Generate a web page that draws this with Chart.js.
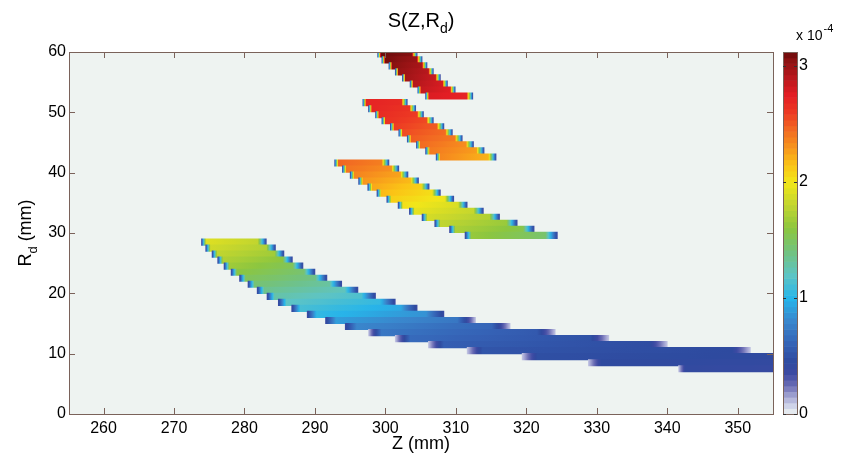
<!DOCTYPE html>
<html lang="en">
<head>
<meta charset="UTF-8">
<title>S(Z,Rd)</title>
<style>
  html, body { margin: 0; padding: 0; background: #ffffff; }
  #wrap { width: 841px; height: 459px; }
</style>
</head>
<body>
<div id="wrap"><canvas id="chart" width="841" height="459"></canvas></div>
<script src="https://cdn.jsdelivr.net/npm/chart.js@4.4.1/dist/chart.umd.min.js"></script>
<script>
// one row of cells per entry: [Rd centre (mm), Z start (mm), Z end (mm), S at start, S at end]  (S in units of 1e-4)
const band1 = [
  [59.7, 298.9, 304.5, 3.12, 3.06],
  [58.7, 299.5, 305.2, 3.10, 3.00],
  [57.7, 300.5, 305.9, 3.06, 2.95],
  [56.7, 301.4, 306.8, 3.02, 2.90],
  [55.7, 302.4, 307.8, 2.98, 2.85],
  [54.7, 303.5, 308.8, 2.92, 2.80],
  [53.7, 304.6, 309.9, 2.86, 2.76],
  [52.7, 305.7, 312.4, 2.78, 2.72],
];
const band2 = [
  [51.6, 296.8, 303.1, 2.72, 2.68],
  [50.6, 297.6, 304.3, 2.71, 2.64],
  [49.6, 298.6, 305.4, 2.68, 2.60],
  [48.6, 299.5, 306.8, 2.65, 2.55],
  [47.6, 300.7, 308.3, 2.60, 2.50],
  [46.6, 301.9, 309.5, 2.55, 2.45],
  [45.6, 303.1, 310.9, 2.50, 2.40],
  [44.6, 304.4, 312.5, 2.45, 2.33],
  [43.6, 305.7, 314.0, 2.40, 2.27],
  [42.6, 307.2, 315.7, 2.35, 2.20],
];
const band3 = [
  [41.6, 292.8, 300.5, 2.47, 2.38],
  [40.6, 293.9, 301.9, 2.42, 2.32],
  [39.6, 295.0, 303.2, 2.36, 2.25],
  [38.6, 296.2, 304.7, 2.30, 2.18],
  [37.6, 297.5, 306.2, 2.24, 2.10],
  [36.6, 298.8, 307.8, 2.18, 2.04],
  [35.6, 300.2, 309.7, 2.10, 1.98],
  [34.6, 301.8, 311.6, 2.03, 1.90],
  [33.6, 303.4, 313.9, 1.96, 1.82],
  [32.6, 305.2, 316.2, 1.88, 1.74],
  [31.6, 307.0, 318.7, 1.80, 1.65],
  [30.6, 309.1, 321.1, 1.72, 1.56],
  [29.6, 311.3, 324.4, 1.64, 1.46],
];
const band4 = [
  [28.5, 273.9, 283.1, 1.92, 1.80],
  [27.5, 274.5, 284.4, 1.86, 1.74],
  [26.5, 275.4, 285.6, 1.80, 1.68],
  [25.5, 276.2, 286.8, 1.74, 1.60],
  [24.5, 277.1, 288.3, 1.67, 1.52],
  [23.5, 278.1, 290.0, 1.60, 1.45],
  [22.5, 279.3, 291.7, 1.52, 1.38],
  [21.5, 280.5, 293.8, 1.44, 1.30],
  [20.5, 281.8, 296.1, 1.36, 1.22],
  [19.5, 283.2, 298.6, 1.28, 1.14],
  [18.5, 284.8, 301.4, 1.20, 1.05],
  [17.5, 286.7, 304.5, 1.12, 0.95],
  [16.5, 288.9, 308.3, 1.04, 0.85],
  [15.5, 291.5, 312.8, 0.90, 0.72],
  [14.5, 294.3, 317.7, 0.80, 0.62],
  [13.5, 297.6, 324.1, 0.72, 0.55],
  [12.5, 301.4, 331.7, 0.65, 0.50],
  [11.5, 306.1, 340.0, 0.58, 0.47],
  [10.5, 311.6, 351.8, 0.52, 0.45],
  [9.5, 319.4, 355.0, 0.48, 0.44],
  [8.5, 328.8, 355.0, 0.45, 0.42],
  [7.5, 341.6, 355.0, 0.42, 0.40],
];

const xTicks = [260, 270, 280, 290, 300, 310, 320, 330, 340, 350];
const yTicks = [0, 10, 20, 30, 40, 50, 60];
const cbTicks = [0, 1, 2, 3];
const zRange = [255.1, 355];
const rdRange = [0, 60];
const sRange = [0, 3.12];

// colour map (S -> colour), jet-like with a white-ish low end
const cmapStops = [
  [0.00, '#eef3f1'], [0.06, '#d6daec'], [0.15, '#a7a8d5'], [0.25, '#6a6cb4'],
  [0.35, '#3e4aa3'], [0.45, '#2e4a9f'], [0.60, '#3561b5'], [0.80, '#3a86cc'],
  [1.00, '#27b5ea'], [1.20, '#5ec4c4'], [1.40, '#72c27f'], [1.60, '#8cc63f'],
  [1.80, '#c1d52f'], [2.00, '#f2e619'], [2.15, '#fbc316'], [2.30, '#f7941d'],
  [2.45, '#f26b22'], [2.60, '#ed3a23'], [2.75, '#e31e24'], [2.90, '#b9181d'],
  [3.05, '#8b1212'], [3.12, '#6b0b0b'],
];
const hexRgb = h => [1, 3, 5].map(i => parseInt(h.substr(i, 2), 16));
const cmapRgb = cmapStops.map(s => [s[0], hexRgb(s[1])]);
function cmap(s) {
  if (s <= cmapRgb[0][0]) return rgbStr(cmapRgb[0][1]);
  for (let i = 1; i < cmapRgb.length; i++) {
    const [s1, c1] = cmapRgb[i];
    if (s <= s1) {
      const [s0, c0] = cmapRgb[i - 1];
      const t = (s - s0) / (s1 - s0);
      return rgbStr(c0.map((v, k) => v + (c1[k] - v) * t));
    }
  }
  return rgbStr(cmapRgb[cmapRgb.length - 1][1]);
}
function rgbStr(c) {
  return `rgb(${Math.round(c[0])},${Math.round(c[1])},${Math.round(c[2])})`;
}

const clamp = (v, a, b) => Math.max(a, Math.min(b, v));

// smooth edge of each row: S falls off towards a low value, like interpolated shading
function rowGradient(ctx, x0, x1, row) {
  const [, zs, ze, s0, s1] = row;
  const len = ze - zs;
  const g = ctx.createLinearGradient(x0, 0, x1, 0);
  const cutRight = ze >= zRange[1];
  const edgeL = s0 < 0.75 ? 0.1 : 0.38;
  const edgeR = s1 < 0.75 ? 0.1 : 0.38;
  const wl = clamp(len * 0.07, 0.45, 2.2) / len;
  const wr = cutRight ? 0 : clamp(len * 0.13, 0.7, 2.6) / len;
  const N = 8;
  for (let i = 0; i <= N; i++) {
    const t = i / N;
    g.addColorStop(t * wl, cmap(edgeL + (s0 - edgeL) * t));
  }
  for (let i = 1; i < N; i++) {
    const t = i / N;
    g.addColorStop(wl + t * (1 - wl - wr), cmap(s0 + (s1 - s0) * t));
  }
  if (cutRight) {
    g.addColorStop(1, cmap(s1));
  } else {
    for (let i = 0; i <= N; i++) {
      const t = i / N;
      g.addColorStop(1 - wr + t * wr, cmap(s1 + (edgeR - s1) * t));
    }
  }
  return g;
}

const FONT = 'Liberation Sans, Arial, Helvetica, sans-serif';
const AXIS_COLOR = '#7a625a';

function drawParts(ctx, parts, x, y) {
  let w = 0;
  parts.forEach(p => { ctx.font = `${p.size}px ${FONT}`; p.w = ctx.measureText(p.t).width; w += p.w; });
  let cx = x - w / 2;
  ctx.textAlign = 'left';
  ctx.textBaseline = 'alphabetic';
  parts.forEach(p => {
    ctx.font = `${p.size}px ${FONT}`;
    ctx.fillText(p.t, cx, y + (p.dy || 0));
    cx += p.w;
  });
}

const decor = {
  id: 'decor',
  beforeDraw(chart) {
    const { ctx, chartArea: a } = chart;
    ctx.save();
    ctx.fillStyle = '#ffffff';
    ctx.fillRect(0, 0, chart.width, chart.height);
    ctx.fillStyle = cmap(0);
    ctx.fillRect(a.left, a.top, a.right - a.left, a.bottom - a.top);
    ctx.restore();
  },
  afterDraw(chart) {
    const { ctx, chartArea: a, scales } = chart;
    ctx.save();
    ctx.strokeStyle = AXIS_COLOR;
    ctx.lineWidth = 1;
    // box
    ctx.strokeRect(Math.round(a.left) + 0.5, Math.round(a.top) + 0.5,
      Math.round(a.right - a.left), Math.round(a.bottom - a.top));
    // inward ticks on all four sides
    ctx.beginPath();
    xTicks.forEach(v => {
      const px = Math.round(scales.x.getPixelForValue(v)) + 0.5;
      ctx.moveTo(px, a.bottom); ctx.lineTo(px, a.bottom - 6);
      ctx.moveTo(px, a.top); ctx.lineTo(px, a.top + 6);
    });
    yTicks.forEach(v => {
      const py = Math.round(scales.y.getPixelForValue(v)) + 0.5;
      ctx.moveTo(a.left, py); ctx.lineTo(a.left + 6, py);
      ctx.moveTo(a.right, py); ctx.lineTo(a.right - 6, py);
    });
    ctx.stroke();

    // colour bar
    const cb = scales.cb;
    const bx = cb.left + 10, bw = 14;
    const steps = 64;
    for (let i = 0; i < steps; i++) {
      const v0 = sRange[0] + (sRange[1] - sRange[0]) * i / steps;
      const v1 = sRange[0] + (sRange[1] - sRange[0]) * (i + 1) / steps;
      const y0 = cb.getPixelForValue(v0), y1 = cb.getPixelForValue(v1);
      ctx.fillStyle = cmap((v0 + v1) / 2);
      ctx.fillRect(bx, y1, bw, y0 - y1 + 0.6);
    }
    ctx.strokeRect(bx + 0.5, Math.round(cb.top) + 0.5, bw, Math.round(cb.bottom - cb.top));
    ctx.strokeStyle = '#333';
    ctx.beginPath();
    cbTicks.forEach(v => {
      const py = Math.round(cb.getPixelForValue(v)) + 0.5;
      ctx.moveTo(bx, py); ctx.lineTo(bx + 3, py);
      ctx.moveTo(bx + bw, py); ctx.lineTo(bx + bw - 3, py);
    });
    ctx.stroke();

    // texts
    ctx.fillStyle = '#000';
    drawParts(ctx, [{ t: 'S(Z,R', size: 20 }, { t: 'd', size: 14, dy: 6 }, { t: ')', size: 20 }],
      (a.left + a.right) / 2, 27);
    drawParts(ctx, [{ t: 'Z (mm)', size: 18 }], (a.left + a.right) / 2, 449);
    ctx.save();
    ctx.translate(31, (a.top + a.bottom) / 2);
    ctx.rotate(-Math.PI / 2);
    drawParts(ctx, [{ t: 'R', size: 18 }, { t: 'd', size: 13, dy: 6 }, { t: ' (mm)', size: 18 }], 0, 0);
    ctx.restore();
    ctx.font = `14px ${FONT}`;
    ctx.textAlign = 'left';
    ctx.fillText('x 10', bx + 13, 40);
    const w10 = ctx.measureText('x 10').width;
    ctx.font = `11px ${FONT}`;
    ctx.fillText('-4', bx + 13 + w10 + 1, 32);
    ctx.restore();
  }
};

const bands = [band1, band2, band3, band4];

new Chart(document.getElementById('chart'), {
  type: 'bar',
  data: {
    datasets: bands.map(rows => ({
      data: rows.map(r => ({ y: r[0], x: [r[1], r[2]] })),
      backgroundColor: c => {
        const chart = c.chart;
        if (!chart.chartArea || c.dataIndex === undefined) return '#000';
        const row = rows[c.dataIndex];
        const xs = chart.scales.x;
        return rowGradient(chart.ctx, xs.getPixelForValue(row[1]), xs.getPixelForValue(row[2]), row);
      },
      borderWidth: 0,
      barThickness: 6.5,
      grouped: false,
      clip: 0,
    })),
  },
  options: {
    indexAxis: 'y',
    responsive: false,
    animation: false,
    layout: { padding: { top: 52, right: 8, left: 0, bottom: 0 } },
    plugins: { legend: { display: false }, tooltip: { enabled: false }, title: { display: false } },
    scales: {
      x: {
        type: 'linear', min: zRange[0], max: zRange[1], offset: false,
        grid: { display: false, drawTicks: false }, border: { display: false },
        ticks: { color: '#000', font: { family: FONT, size: 16 }, padding: 5, maxRotation: 0, autoSkip: false },
        afterBuildTicks: s => { s.ticks = xTicks.map(v => ({ value: v })); },
        afterFit: s => { s.height = 45; },
      },
      y: {
        type: 'linear', position: 'left', min: rdRange[0], max: rdRange[1], offset: false,
        grid: { display: false, drawTicks: false, offset: false }, border: { display: false },
        ticks: { color: '#000', font: { family: FONT, size: 16 }, padding: 3, autoSkip: false },
        afterBuildTicks: s => { s.ticks = yTicks.map(v => ({ value: v })); },
        afterFit: s => { s.width = 69; },
      },
      cb: {
        type: 'linear', position: 'right', axis: 'y', min: sRange[0], max: sRange[1], offset: false,
        grid: { display: false, drawTicks: false, offset: false }, border: { display: false },
        ticks: { color: '#000', font: { family: FONT, size: 16 }, padding: 26, autoSkip: false },
        afterBuildTicks: s => { s.ticks = cbTicks.map(v => ({ value: v })); },
        afterFit: s => { s.width = 60; },
      },
    },
  },
  plugins: [decor],
});
</script>
</body>
</html>
